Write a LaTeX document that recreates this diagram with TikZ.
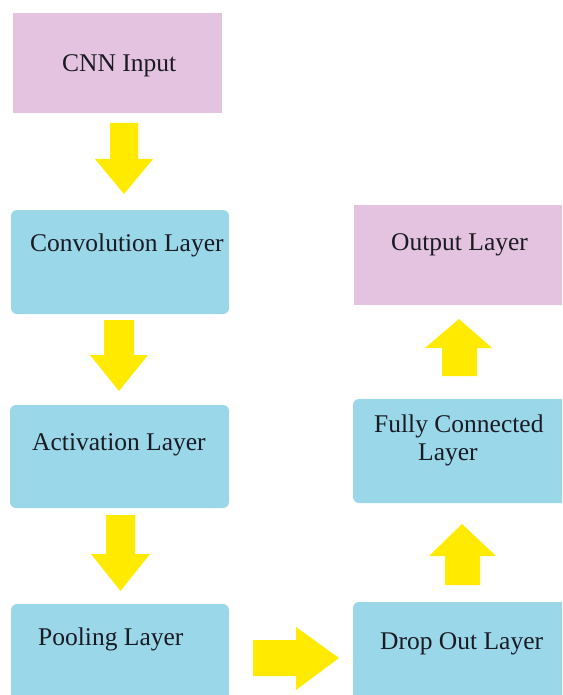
\documentclass[tikz,border=0pt]{standalone}
\usepackage{fontspec}
\setmainfont{Liberation Serif}
\definecolor{inpink}{HTML}{E3C3DF}
\definecolor{layerblue}{HTML}{9AD8E9}
\definecolor{flowyellow}{HTML}{FFEA00}
\definecolor{ink}{HTML}{1A1A24}
\begin{document}
\begin{tikzpicture}[x=1pt,y=-1pt,
  box/.style={inner sep=0pt,outer sep=0pt,anchor=north west},
  pinkbox/.style={box,fill=inpink},
  bluebox/.style={box,fill=layerblue,rounded corners=6pt},
  txt/.style={text=ink,font=\fontsize{25.5}{29}\selectfont,inner sep=0pt,anchor=base west},
  flow/.style={fill=flowyellow}]
\useasboundingbox (0,0) rectangle (562,695);
\clip (0,0) rectangle (562,695);
\fill[white] (0,0) rectangle (562,695);

% layer boxes
\node[pinkbox,minimum width=209pt,minimum height=100pt] (in)   at (13,13)  {};
\node[bluebox,minimum width=218pt,minimum height=104pt] (conv) at (11,210) {};
\node[bluebox,minimum width=219pt,minimum height=103pt] (act)  at (10,405) {};
\node[bluebox,minimum width=218pt,minimum height=110pt] (pool) at (11,604) {};
\node[bluebox,minimum width=220pt,minimum height=110pt] (drop) at (353,602) {};
\node[bluebox,minimum width=220pt,minimum height=104pt] (fc)   at (353,399) {};
\node[pinkbox,minimum width=220pt,minimum height=100pt] (out)  at (354,205) {};

% labels
\node[txt] (in-t)   at (62,72)   {CNN Input};
\node[txt] (conv-t) at (30,251)  {Convolution Layer};
\node[txt] (act-t)  at (32,450)  {Activation Layer};
\node[txt] (pool-t) at (38,645)  {Pooling Layer};
\node[txt] (drop-t) at (380,649) {Drop Out Layer};
\node[txt] (fc-t1)  at (374,432) {Fully Connected};
\node[txt] (fc-t2)  at (418,460) {Layer};
\node[txt] (out-t)  at (391,250) {Output Layer};

% block arrows between the layers
\fill[flow] (110,123) -- (138,123) -- (138,159) -- (153,159) -- (124,194) -- (95,159) -- (110,159) -- cycle;
\fill[flow] (104,320) -- (134,320) -- (134,355) -- (148,355) -- (119,391) -- (90,355) -- (104,355) -- cycle;
\fill[flow] (106,515) -- (135,515) -- (135,554) -- (150,554) -- (120.5,591) -- (91,554) -- (106,554) -- cycle;
\fill[flow] (253,640) -- (296,640) -- (296,627) -- (339,658) -- (296,690) -- (296,676) -- (253,676) -- cycle;
\fill[flow] (445,585) -- (480,585) -- (480,556) -- (496,556) -- (462,524) -- (429,556) -- (445,556) -- cycle;
\fill[flow] (442,376) -- (477,376) -- (477,348) -- (492,348) -- (459,319) -- (425,348) -- (442,348) -- cycle;
\end{tikzpicture}
\end{document}
